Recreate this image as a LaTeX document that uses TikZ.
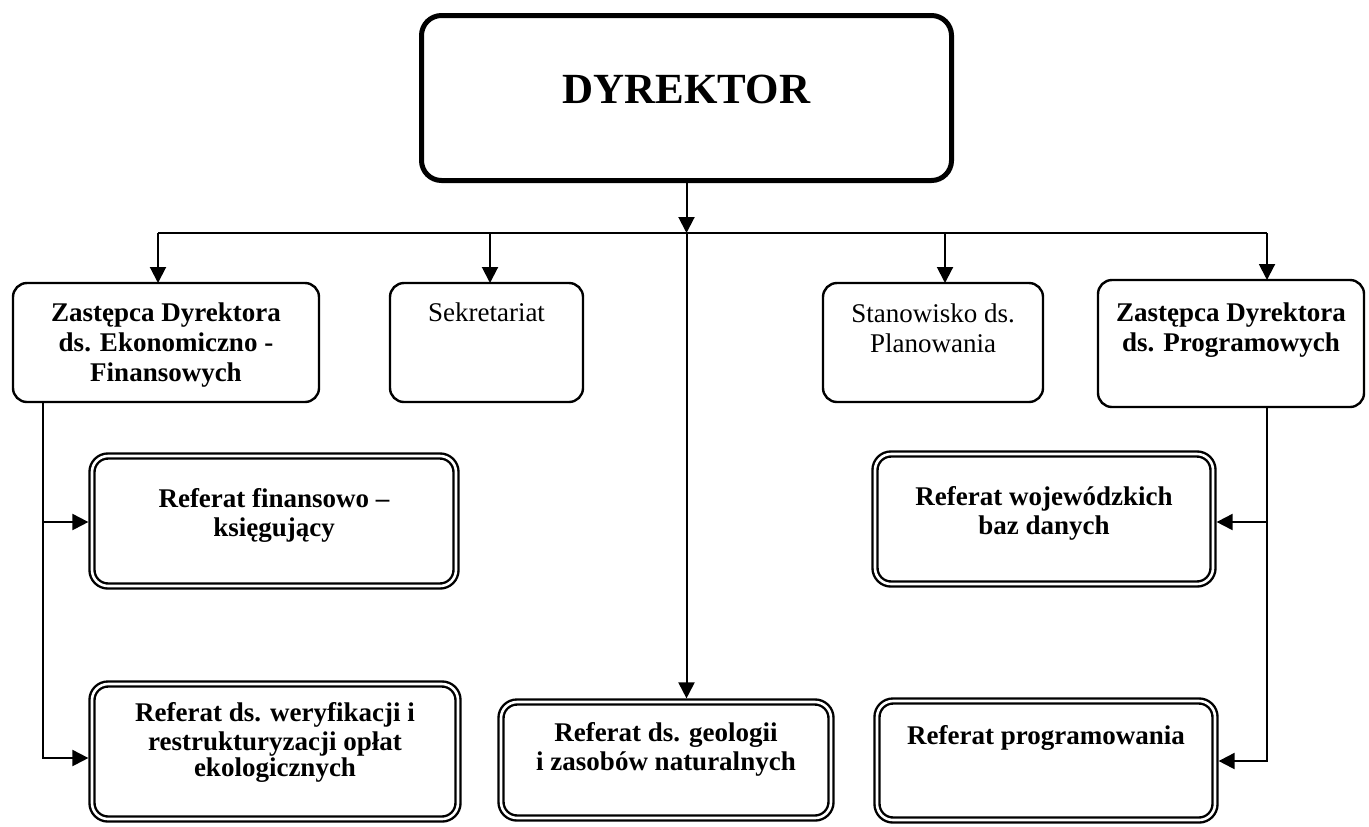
\documentclass[tikz,border=0pt]{standalone}
\usepackage{fontspec}
\setmainfont{Liberation Serif}
\usetikzlibrary{arrows.meta}

% box content: width, height, space above first line, text (top aligned)
\newcommand{\inbox}[4]{\begin{minipage}[c][#2][t]{#1}\centering\vspace*{#3}\strut #4\par\vfill\end{minipage}}

\tikzset{
  bigbox/.style={draw, line width=2.5pt, rounded corners=10pt, inner sep=0pt, outer sep=0pt,
    font=\fontsize{21.5}{25}\selectfont\bfseries},
  unitbox/.style={draw, line width=1.2pt, rounded corners=7pt, inner sep=0pt, outer sep=0pt,
    font=\fontsize{13.5}{15}\selectfont},
  deptbox/.style={draw, double, double distance=1.3pt, line width=1.2pt, rounded corners=8pt,
    inner sep=0pt, outer sep=0pt, font=\fontsize{13.5}{13.25}\selectfont\bfseries},
  conn/.style={line width=1pt},
  arr/.style={line width=1pt, -{Triangle[length=8pt,width=8pt]}},
  arrd/.style={arr, shorten >=1.8pt},
}

\begin{document}
\begin{tikzpicture}[x=0.5pt, y=-0.5pt]
\useasboundingbox (0,0) rectangle (1369,826);

% top level
\node[bigbox] (dyr) at (686.5,98) {\inbox{265pt}{82.5pt}{26.25pt}{DYREKTOR}};

% first level
\node[unitbox, font=\fontsize{13.5}{15}\selectfont\bfseries] (zef) at (166,342.5)
  {\inbox{153pt}{59.5pt}{8.5pt}{Zastępca Dyrektora\\ds. Ekonomiczno -\\Finansowych}};
\node[unitbox] (sek) at (486.5,342.5) {\inbox{96.5pt}{59.5pt}{8.5pt}{Sekretariat}};
\node[unitbox] (stan) at (933,342.5) {\inbox{110pt}{59.5pt}{9pt}{Stanowisko ds.\\Planowania}};
\node[unitbox, font=\fontsize{13.5}{15}\selectfont\bfseries] (prog) at (1231,343.5)
  {\inbox{133pt}{63.5pt}{10pt}{Zastępca Dyrektora\\ds. Programowych}};

% departments
\node[deptbox] (rfk) at (274,521) {\inbox{182pt}{65pt}{16.2pt}{Referat finansowo –\\księgujący}};
\node[deptbox] (rwbd) at (1044,519) {\inbox{169pt}{65pt}{16.2pt}{Referat wojewódzkich\\baz danych}};
\node[deptbox] (rwer) at (275,751.5)
  {\inbox{183pt}{67.5pt}{9.2pt}{Referat ds. weryfikacji i\\restrukturyzacji opłat\\ekologicznych}};
\node[deptbox] (rgeo) at (666,760) {\inbox{165pt}{58pt}{10.2pt}{Referat ds. geologii\\i zasobów naturalnych}};
\node[deptbox] (rprog) at (1046,760.5) {\inbox{169pt}{59.5pt}{12.2pt}{Referat programowania}};

% distribution bus
\coordinate (b1) at (158,233);
\coordinate (b2) at (490,233);
\coordinate (b3) at (945,233);
\coordinate (b4) at (1267,233);
\coordinate (l1) at (43,522);
\coordinate (l2) at (43,758);
\coordinate (r1) at (1267,522);
\coordinate (r2) at (1267,761);

\draw[arr] (dyr.south) -- (dyr.south |- b1);
\draw[conn] (b1) -- (b4);
\draw[arr] (b1) -- (b1 |- zef.north);
\draw[arr] (b2) -- (b2 |- sek.north);
\draw[arr] (b3) -- (b3 |- stan.north);
\draw[arr] (b4) -- (b4 |- prog.north);
\draw[arrd] (dyr.south |- b1) -- (dyr.south |- rgeo.north);

% left branch
\draw[arrd] (l1 |- zef.south) -- (l2) -- (l2 -| rwer.west);
\draw[arrd] (l1) -- (l1 -| rfk.west);

% right branch
\draw[arrd] (r1 |- prog.south) -- (r2) -- (r2 -| rprog.east);
\draw[arrd] (r1) -- (r1 -| rwbd.east);
\end{tikzpicture}
\end{document}
